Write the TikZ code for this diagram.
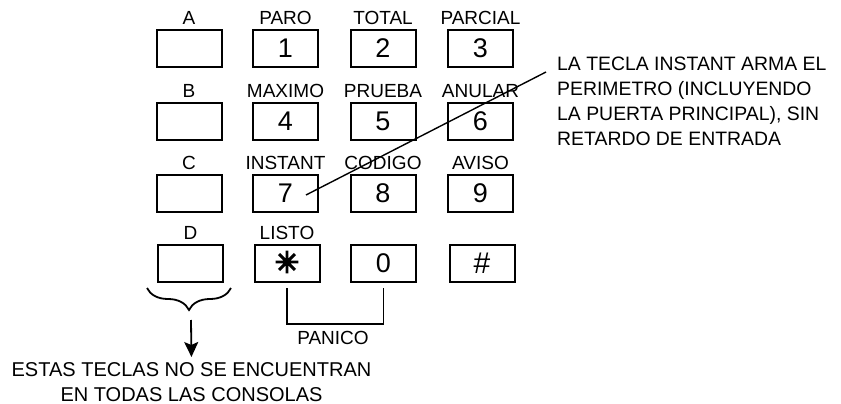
\documentclass[tikz,border=0pt]{standalone}
\usepackage{fontspec}
\setmainfont{Liberation Sans}
\newfontfamily\symfont[FakeBold=5]{DejaVu Sans}
\usetikzlibrary{positioning,calc,decorations.pathreplacing,arrows.meta}

\begin{document}
\begin{tikzpicture}[x=1pt,y=-1pt]
    \tikzstyle{key}=[draw, line width=2pt, minimum width=65pt, minimum height=37pt, inner sep=0pt, font=\fontsize{27}{27}\selectfont]
    \tikzstyle{lbl}=[inner sep=0pt, font=\fontsize{19}{19}\selectfont]
    \tikzstyle{note}=[inner sep=0pt, align=left, font=\fontsize{19.4}{25}\selectfont]
    \useasboundingbox (0,0) rectangle (841,404);
    % keys
    \node[key] (ka) at (189,48.5){};
    \node[key] (k1) at (285.5,48.5){1};
    \node[key] (k2) at (383,48.5){2};
    \node[key] (k3) at (480.5,48.5){3};
    \node[key] (kb) at (189,121){};
    \node[key] (k4) at (285.5,121){4};
    \node[key] (k5) at (383,121){5};
    \node[key] (k6) at (480.5,121){6};
    \node[key] (kc) at (189,193){};
    \node[key] (k7) at (285.5,193){7};
    \node[key] (k8) at (383,193){8};
    \node[key] (k9) at (480.5,193){9};
    \node[key] (kd) at (190.5,263.5){};
    \node[key] (ks) at (287,263.5){\raisebox{3pt}{\symfont\fontsize{29}{29}\selectfont ✳}};
    \node[key] (k0) at (383.5,263.5){0};
    \node[key] (kh) at (482,263.5){\fontsize{30}{30}\selectfont\#};
    % labels
    \node[lbl, above=4pt of ka] (la) {A};
    \node[lbl, above=4pt of k1] (l1) {PARO};
    \node[lbl, above=4pt of k2] (l2) {TOTAL};
    \node[lbl, above=4pt of k3] (l3) {PARCIAL};
    \node[lbl, above=4pt of kb] (lb) {B};
    \node[lbl, above=4pt of k4] (l4) {MAXIMO};
    \node[lbl, above=4pt of k5] (l5) {PRUEBA};
    \node[lbl, above=4pt of k6] (l6) {ANULAR};
    \node[lbl, above=4pt of kc] (lc) {C};
    \node[lbl, above=4pt of k7] (l7) {INSTANT};
    \node[lbl, above=4pt of k8] (l8) {CODIGO};
    \node[lbl, above=4pt of k9] (l9) {AVISO};
    \node[lbl, above=4pt of kd] (ld) {D};
    \node[lbl, above=4pt of ks] (ls) {LISTO};
    % instant note
    \node[note, anchor=north west] (inst) at (557,57) {LA TECLA INSTANT ARMA EL\\PERIMETRO (INCLUYENDO\\LA PUERTA PRINCIPAL), SIN\\RETARDO DE ENTRADA};
    \coordinate (c7) at (306,195);
    \coordinate (cn) at (546,72);
    \draw[line width=1.4pt] (c7) -- (cn);
    % panico
    \draw[line width=1.8pt] (ks.south) ++(0,5) -- ++(0,36) -- ($(k0.south)+(0,41)$) -- ($(k0.south)+(0,5)$);
    \node[lbl] (pan) at (333,337.5) {PANICO};
    % brace under A-D
    \coordinate (br1) at (231,288);
    \coordinate (br2) at (147,288);
    \coordinate (bt) at (191,320);
    \draw[line width=1.8pt, decorate, decoration={brace, amplitude=22pt}] (br1) -- (br2);
    \node[note, align=center, anchor=north, font=\fontsize{20}{25}\selectfont] (cons) at (191.5,362) {ESTAS TECLAS NO SE ENCUENTRAN\\EN TODAS LAS CONSOLAS};
    \draw[line width=1.8pt, -{Stealth[length=15pt,width=14pt,inset=3pt]}, shorten >=5pt] (bt) -- (cons.north);
  \end{tikzpicture}
\end{document}
